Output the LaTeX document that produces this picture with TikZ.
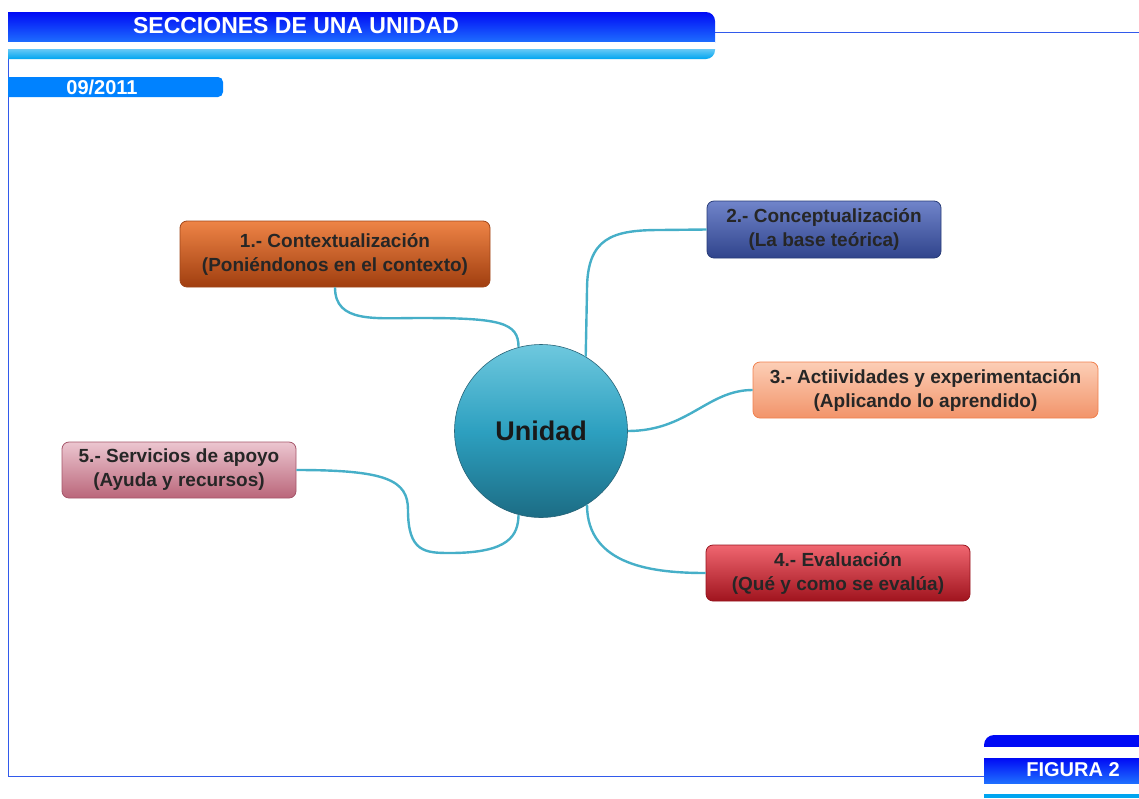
\documentclass[tikz,border=0pt]{standalone}
\usepackage{fontspec}
\setmainfont{Liberation Sans}
\begin{document}
\begin{tikzpicture}[x=1pt,y=-1pt]
\definecolor{conn}{RGB}{70,175,200}
\definecolor{frame}{RGB}{50,90,235}
\definecolor{darkblue}{RGB}{0,10,245}
\definecolor{midblue}{RGB}{30,110,255}
\definecolor{lightblue}{RGB}{0,165,240}
\definecolor{dateblue}{RGB}{0,130,255}
\tikzset{
  box/.style={rounded corners=7pt, draw, line width=0.8pt, align=center,
    font=\fontsize{19}{24}\selectfont\bfseries, text=black!85,
    inner sep=0pt, minimum height=56pt},
  link/.style={draw=conn, line width=2.4pt},
  whitetext/.style={text=white, font=\bfseries, inner sep=0pt}
}
\useasboundingbox (0,0) rectangle (1139,798);
% frame lines
\draw[frame, line width=1pt] (715,32) -- (1139,32);
\draw[frame, line width=1pt] (8,12) -- (8,776) -- (984,776);
% title bar
\begin{scope}
\clip (8,12) [rounded corners=9pt] -- (715,12) -- (715,59) [sharp corners] -- (8,59) -- cycle;
\shade[top color=darkblue, bottom color=midblue] (8,12) rectangle (715,42);
\fill[white] (8,42) rectangle (715,49);
\shade[top color=lightblue!60, bottom color=lightblue] (8,49) rectangle (715,59);
\end{scope}
\node[whitetext, font=\fontsize{23}{25}\selectfont\bfseries] (title) at (296,26) {SECCIONES DE UNA UNIDAD};
% date bar
\fill[dateblue] (8,77) [rounded corners=5pt] -- (223,77) -- (223,97) [sharp corners] -- (8,97) -- cycle;
\node[whitetext, font=\fontsize{20}{22}\selectfont\bfseries] (date) at (102,87) {09/2011};
% figure label
\begin{scope}
\clip (1139,735) [rounded corners=10pt] -- (984,735) [sharp corners] -- (984,747) -- (1139,747) -- cycle;
\fill[darkblue] (984,735) rectangle (1139,747);
\end{scope}
\shade[top color=darkblue, bottom color=midblue] (984,758) rectangle (1139,783);
\fill[lightblue] (984,794) rectangle (1139,798);
\node[whitetext, font=\fontsize{20}{22}\selectfont\bfseries] (fig) at (1073,770) {FIGURA 2};
% central node
\node[circle, draw={rgb,255:red,40;green,100;blue,120}, line width=0.6pt, minimum size=173pt, inner sep=0pt,
  top color={rgb,255:red,110;green,200;blue,222}, bottom color={rgb,255:red,28;green,108;blue,132},
  middle color={rgb,255:red,45;green,160;blue,192},
  font=\fontsize{27}{30}\selectfont\bfseries, text=black!90] (u) at (541,431) {Unidad};
% branch nodes
\node[box, minimum width=310pt, minimum height=66pt, draw={rgb,255:red,160;green,70;blue,25},
  top color={rgb,255:red,238;green,132;blue,70}, middle color={rgb,255:red,220;green,96;blue,30},
  bottom color={rgb,255:red,160;green,62;blue,15}] (n1) at (335,254)
  {1.- Contextualización\\(Poniéndonos en el contexto)};
\node[box, minimum width=234pt, minimum height=57pt, draw={rgb,255:red,40;green,60;blue,120},
  top color={rgb,255:red,112;green,132;blue,202}, bottom color={rgb,255:red,48;green,68;blue,140}] (n2) at (824,229.5)
  {2.- Conceptualización\\(La base teórica)};
\node[box, minimum width=345pt, draw={rgb,255:red,240;green,128;blue,78},
  top color={rgb,255:red,252;green,206;blue,182}, bottom color={rgb,255:red,242;green,148;blue,106}] (n3) at (925.5,390)
  {3.- Actiividades y experimentación\\(Aplicando lo aprendido)};
\node[box, minimum width=264pt, draw={rgb,255:red,150;green,20;blue,30},
  top color={rgb,255:red,240;green,102;blue,112}, middle color={rgb,255:red,222;green,42;blue,52},
  bottom color={rgb,255:red,160;green,20;blue,30}] (n4) at (838,573)
  {4.- Evaluación\\(Qué y como se evalúa)};
\node[box, minimum width=234pt, draw={rgb,255:red,165;green,85;blue,105},
  top color={rgb,255:red,236;green,198;blue,208}, bottom color={rgb,255:red,186;green,102;blue,122}] (n5) at (179,470)
  {5.- Servicios de apoyo\\(Ayuda y recursos)};
% connectors
\draw[link] (n1.south) .. controls +(0,36) and +(-45,0) .. (420,318)
  .. controls +(80,0) and +(0,-25) .. (u.105);
\draw[link] (u.59.5) -- (587,290) .. controls (587,238) and (612,230) .. (660,230) -- (n2.west);
\draw[link] (u.east) .. controls +(60,0) and +(-45,0) .. (n3.west);
\draw[link] (u.-58) .. controls +(0,62) and +(-50,0) .. (n4.west);
\draw[link] (n5.east) .. controls +(90,0) and +(0,-30) .. (408,510)
  .. controls (408,552) and (425,553) .. (450,553)
  .. controls (510,553) and (518,535) .. (u.-105);
\end{tikzpicture}
\end{document}
